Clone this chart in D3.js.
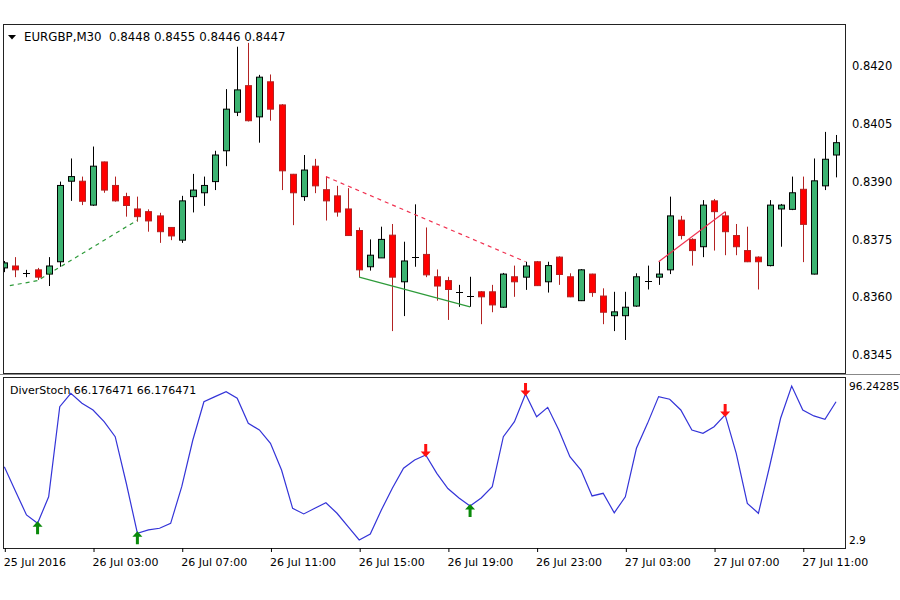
<!DOCTYPE html>
<html><head><meta charset="utf-8">
<script src="https://cdn.jsdelivr.net/npm/d3@7"></script>
<style>body{margin:0;background:#fff} svg{display:block} text{font-family:"DejaVu Sans",sans-serif;fill:#000}</style>
</head><body><svg id="c" width="900" height="600"></svg>
<script>
// ---- data ----
const symbolTitle = "EURGBP,M30  0.8448 0.8455 0.8446 0.8447";
const indTitle = "DiverStoch 66.176471 66.176471";
const opens = [0.83676,0.83681,0.83662,0.83671,0.83660,0.83692,0.83901,0.83901,0.83839,0.83951,
0.83890,0.83861,0.83829,0.83822,0.83811,0.83781,0.83748,0.83861,0.83871,0.83900,
0.83980,0.84080,0.84149,0.84068,0.84159,0.84099,0.83919,0.83861,0.83940,0.83879,
0.83863,0.83829,0.83773,0.83679,0.83702,0.83761,0.83640,0.83704,0.83711,0.83653,
0.83643,0.83613,0.83603,0.83614,0.83614,0.83574,0.83653,0.83652,0.83692,0.83640,
0.83704,0.83653,0.83591,0.83660,0.83603,0.83552,0.83552,0.83577,0.83642,0.83652,
0.83671,0.83800,0.83750,0.83731,0.83850,0.83811,0.83760,0.83721,0.83704,0.83682,
0.83829,0.83828,0.83880,0.83660,0.83889,0.83969];
const highs = [0.83694,0.83704,0.83671,0.83676,0.83704,0.83900,0.83960,0.83913,0.83991,0.83952,
0.83913,0.83871,0.83861,0.83828,0.83819,0.83782,0.83863,0.83920,0.83913,0.83980,
0.84140,0.84250,0.84260,0.84177,0.84178,0.84101,0.83920,0.83969,0.83959,0.83913,
0.83889,0.83883,0.83781,0.83750,0.83783,0.83790,0.83744,0.83841,0.83781,0.83672,
0.83653,0.83632,0.83653,0.83616,0.83632,0.83663,0.83682,0.83692,0.83694,0.83692,
0.83706,0.83662,0.83673,0.83661,0.83623,0.83614,0.83614,0.83662,0.83682,0.83692,
0.83861,0.83811,0.83753,0.83852,0.83855,0.83822,0.83790,0.83783,0.83706,0.83852,
0.83842,0.83913,0.83913,0.83960,0.84029,0.84021];
const lows = [0.83665,0.83652,0.83652,0.83645,0.83629,0.83679,0.83850,0.83839,0.83837,0.83871,
0.83848,0.83809,0.83796,0.83770,0.83741,0.83748,0.83741,0.83820,0.83837,0.83878,
0.83940,0.84070,0.84056,0.84001,0.84058,0.83878,0.83787,0.83850,0.83870,0.83799,
0.83809,0.83759,0.83652,0.83669,0.83702,0.83512,0.83551,0.83679,0.83652,0.83591,
0.83541,0.83575,0.83575,0.83530,0.83561,0.83572,0.83601,0.83619,0.83629,0.83612,
0.83632,0.83600,0.83590,0.83601,0.83530,0.83512,0.83489,0.83575,0.83620,0.83632,
0.83660,0.83750,0.83682,0.83704,0.83721,0.83709,0.83709,0.83691,0.83620,0.83680,
0.83731,0.83826,0.83691,0.83659,0.83878,0.83911];
const closes = [0.83689,0.83671,0.83662,0.83652,0.83681,0.83890,0.83913,0.83849,0.83940,0.83878,
0.83850,0.83838,0.83809,0.83798,0.83770,0.83759,0.83850,0.83878,0.83890,0.83969,
0.84088,0.84138,0.84058,0.84171,0.84088,0.83928,0.83871,0.83930,0.83889,0.83850,
0.83821,0.83760,0.83671,0.83709,0.83750,0.83652,0.83694,0.83704,0.83658,0.83629,
0.83620,0.83613,0.83603,0.83601,0.83580,0.83660,0.83640,0.83681,0.83630,0.83682,
0.83659,0.83601,0.83671,0.83612,0.83561,0.83562,0.83574,0.83653,0.83642,0.83660,
0.83811,0.83760,0.83721,0.83839,0.83822,0.83770,0.83731,0.83692,0.83692,0.83839,
0.83839,0.83871,0.83789,0.83902,0.83958,0.84001];
const stoch = [47.3,32.6,18.1,13.0,29.1,83.7,91.8,85.8,81.7,74.6,
65.5,37.3,7.0,9.0,10.0,13.0,35.2,63.5,86.7,89.8,
92.8,88.8,73.6,69.6,61.5,45.3,22.1,18.7,22.1,25.5,
19.1,11.0,2.9,6.5,21.1,34.4,46.4,51.4,54.4,43.3,
34.1,28.4,23.5,28.4,35.2,65.5,74.6,91.4,77.6,83.3,
69.6,53.4,45.3,29.6,31.2,19.4,29.1,58.5,73.6,89.8,
88.2,81.7,69.6,67.6,71.6,78.7,55.4,25.1,19.1,47.3,
76.7,96.2,81.7,78.1,76.1,86.7];
const upArrowBars = [3, 12, 42];
const downArrowBars = [38, 47, 65];
const greenDashLine = [[0.5,0.83630],[3,0.83643],[12,0.83800]];
const redDashLine = [[29,0.83913],[47,0.83692]];
const greenSolidLine = [[32,0.83652],[42,0.83575]];
const redSolidLine = [[59,0.83692],[65,0.83822]];
const priceTicks = [0.8345,0.8360,0.8375,0.8390,0.8405,0.8420];
const indTicks = [2.9, 96.24285];
const indTickLabels = ["2.9","96.24285"];
const timeBars = [0,8,16,24,32,40,48,56,64,72];
const timeLabels = ["25 Jul 2016","26 Jul 03:00","26 Jul 07:00","26 Jul 11:00","26 Jul 15:00","26 Jul 19:00","26 Jul 23:00","27 Jul 03:00","27 Jul 07:00","27 Jul 11:00"];

// ---- layout ----
const svg = d3.select("#c");
const L = 3, R = 845, mainTop = 24, mainBot = 373, indTop = 377, indBot = 548;
const x = d3.scaleLinear().domain([0, 75]).range([4.3, 836.05]);
const py = d3.scaleLinear().domain([0.8345, 0.8420]).range([355, 66]);
const sy = d3.scaleLinear().domain([2.9, 96.24285]).range([540, 386]);

const UP_FILL = "#3CB371", DN_FILL = "#FF0000", UP_LINE = "#000000", DN_LINE = "#B22222";

svg.append("defs").append("clipPath").attr("id","mainClip")
  .append("rect").attr("x",L+1).attr("y",mainTop+1).attr("width",R-L-1).attr("height",mainBot-mainTop-1);
svg.select("defs").append("clipPath").attr("id","indClip")
  .append("rect").attr("x",L+1).attr("y",indTop+1).attr("width",R-L-1).attr("height",indBot-indTop-1);

// frames
svg.append("rect").attr("x",L+0.5).attr("y",mainTop+0.5).attr("width",R-L).attr("height",mainBot-mainTop)
  .attr("fill","none").attr("stroke","#222").attr("stroke-width",1);
svg.append("rect").attr("x",L+0.5).attr("y",indTop+0.5).attr("width",R-L).attr("height",indBot-indTop)
  .attr("fill","none").attr("stroke","#222").attr("stroke-width",1);
svg.append("line").attr("x1",0).attr("x2",900).attr("y1",mainBot+1.5).attr("y2",mainBot+1.5).attr("stroke","#888").attr("stroke-width",1);

const main = svg.append("g").attr("clip-path","url(#mainClip)");
const bars = d3.range(opens.length).map(i => ({i, o:opens[i], h:highs[i], l:lows[i], c:closes[i]}));
const cx = d => Math.round(x(d.i)) + 0.5;

// wicks
main.append("g").selectAll("line").data(bars).join("line")
  .attr("x1", cx).attr("x2", cx)
  .attr("y1", d => py(d.h)).attr("y2", d => py(d.l))
  .attr("stroke", d => d.c < d.o ? DN_LINE : UP_LINE).attr("stroke-width",1);
// bodies
main.append("g").selectAll("rect").data(bars.filter(d => d.c !== d.o)).join("rect")
  .attr("x", d => cx(d) - 3).attr("width", 6)
  .attr("y", d => py(Math.max(d.o,d.c))).attr("height", d => Math.max(1, Math.abs(py(d.o)-py(d.c))))
  .attr("fill", d => d.c > d.o ? UP_FILL : DN_FILL)
  .attr("stroke", d => d.c > d.o ? UP_LINE : DN_LINE).attr("stroke-width",1);
// doji
main.append("g").selectAll("line").data(bars.filter(d => d.c === d.o)).join("line")
  .attr("x1", d => cx(d) - 3.5).attr("x2", d => cx(d) + 3.5)
  .attr("y1", d => Math.round(py(d.o))+0.5).attr("y2", d => Math.round(py(d.o))+0.5)
  .attr("stroke", UP_LINE).attr("stroke-width",1);

// trend lines
const tl = d3.line().x(d => x(d[0])).y(d => py(d[1]));
main.append("path").attr("d", tl(greenDashLine)).attr("fill","none").attr("stroke","#2E9B3A").attr("stroke-width",1.2).attr("stroke-dasharray","4,4");
main.append("path").attr("d", tl(redDashLine)).attr("fill","none").attr("stroke","#F0304F").attr("stroke-width",1.2).attr("stroke-dasharray","4,4");
main.append("path").attr("d", tl(greenSolidLine)).attr("fill","none").attr("stroke","#2E9B3A").attr("stroke-width",1.2);
main.append("path").attr("d", tl(redSolidLine)).attr("fill","none").attr("stroke","#F0304F").attr("stroke-width",1.2);

// header
svg.append("path").attr("d","M8,35 L16,35 L12,39.5 Z").attr("fill","#000");
svg.append("text").attr("x",24).attr("y",41).attr("font-size","11.8px")
  .style("white-space","pre").text(symbolTitle);

// right price axis
const pa = svg.append("g").attr("transform",`translate(${R},0)`)
  .call(d3.axisRight(py).tickValues(priceTicks).tickFormat(d3.format(".4f")).tickSize(0).tickPadding(7));
pa.select(".domain").remove();
pa.selectAll("text").attr("font-family","DejaVu Sans").attr("font-size","11.5px").attr("fill","#000");

// indicator
const ind = svg.append("g").attr("clip-path","url(#indClip)");
const sl = d3.line().x((d,i) => x(i)).y(d => sy(d));
ind.append("path").attr("d", sl(stoch)).attr("fill","none").attr("stroke","#3434D8").attr("stroke-width",1.2);

const upPath = "M0,0 L5,5.5 L1.5,5.5 L1.5,13 L-1.5,13 L-1.5,5.5 L-5,5.5 Z";
const dnPath = "M0,0 L5,-5.5 L1.5,-5.5 L1.5,-13 L-1.5,-13 L-1.5,-5.5 L-5,-5.5 Z";
svg.append("g").selectAll("path").data(upArrowBars).join("path")
  .attr("transform", i => `translate(${x(i)},${sy(stoch[i]) - 2})`)
  .attr("d", upPath).attr("fill","#0A8A0A");
svg.append("g").selectAll("path").data(downArrowBars).join("path")
  .attr("transform", i => `translate(${x(i)},${sy(stoch[i]) + 2})`)
  .attr("d", dnPath).attr("fill","#FF1010");

svg.append("text").attr("x",10).attr("y",393.5).attr("font-size","11px").text(indTitle);

const ia = svg.append("g").attr("transform",`translate(${R},0)`)
  .call(d3.axisRight(sy).tickValues(indTicks).tickFormat((d,i) => indTickLabels[i]).tickSize(0).tickPadding(4));
ia.select(".domain").remove();
ia.selectAll("text").attr("font-family","DejaVu Sans").attr("font-size","10.6px").attr("fill","#000");

// time axis
const ta = svg.append("g").attr("transform",`translate(0,${indBot})`)
  .call(d3.axisBottom(x).tickValues(timeBars).tickFormat((d,i) => timeLabels[i]).tickSize(4).tickSizeOuter(0).tickPadding(6));
ta.select(".domain").remove();
ta.selectAll(".tick line").attr("stroke","#000").attr("transform","translate(0.5,0)");
ta.selectAll("text").attr("text-anchor","start").attr("x",-1)
  .attr("font-family","DejaVu Sans").attr("font-size","11px").attr("fill","#000");
</script></body></html>
